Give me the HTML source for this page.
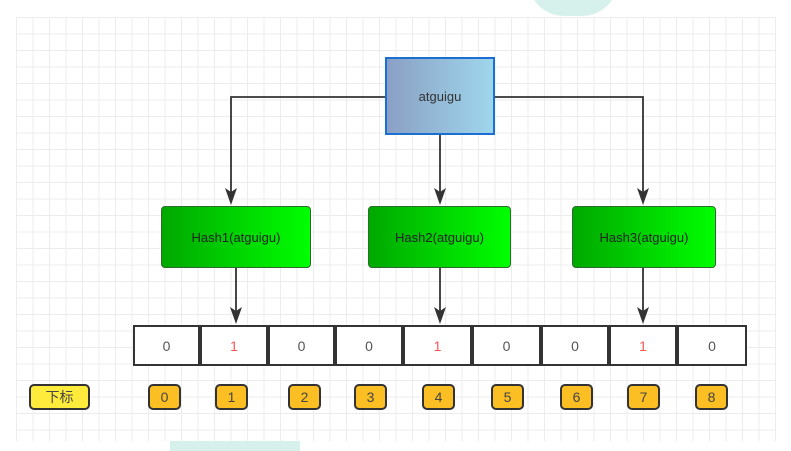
<html><head><style>
body{margin:0;width:791px;height:447px;background:#fff;position:relative;overflow:hidden;font-family:"Liberation Sans","Noto Sans CJK SC",sans-serif}
.grid{position:absolute;left:16px;top:17px;width:760px;height:424px;
background-image:linear-gradient(#ececec 1px,transparent 1px),linear-gradient(90deg,#ececec 1px,transparent 1px);
background-size:16.5px 16.5px}
.b{position:absolute;display:flex;align-items:center;justify-content:center;box-sizing:border-box}
.h{background:linear-gradient(90deg,#00a800,#00ff00);border:1.5px solid #2d6b2d;border-radius:4px;font-size:13px;color:#222}
.c{border:2px solid #333;border-left:none;background:#fff;font-size:14px;color:#555}
.i{background:#fbbf24;border:2px solid #333;border-radius:5px;font-size:14px;color:#444}
</style></head><body>
<div class="grid"></div>
<div style="position:absolute;left:528px;top:-20px;width:90px;height:36px;border-radius:0 0 40px 40px;background:#d6f1ec"></div>
<div style="position:absolute;left:170px;top:441px;width:130px;height:10px;background:#d6f1ec"></div>
<svg width="791" height="447" style="position:absolute;left:0;top:0">
<g stroke="#333" stroke-width="1.8" fill="none">
<path d="M385,97 H231 V195"/>
<path d="M495,97 H643 V195"/>
<path d="M440,135 V195"/>
<path d="M236,268 V314"/>
<path d="M440,268 V314"/>
<path d="M643,268 V314"/>
</g>
<g fill="#333">
<path d="M225,188 L231,192 L237,188 L231,205 z"/>
<path d="M434,188 L440,192 L446,188 L440,205 z"/>
<path d="M637,188 L643,192 L649,188 L643,205 z"/>
<path d="M230,307 L236,311 L242,307 L236,324 z"/>
<path d="M434,307 L440,311 L446,307 L440,324 z"/>
<path d="M637,307 L643,311 L649,307 L643,324 z"/>
</g></svg>
<div class="b" style="left:385px;top:57px;width:110px;height:78px;background:linear-gradient(90deg,#8aa0c4,#9fd6ec);border:2px solid #1b6fd0;font-size:13px;color:#333">atguigu</div>
<div class="b h" style="left:161px;top:206px;width:150px;height:62px">Hash1(atguigu)</div>
<div class="b h" style="left:368px;top:206px;width:143px;height:62px">Hash2(atguigu)</div>
<div class="b h" style="left:572px;top:206px;width:144px;height:62px">Hash3(atguigu)</div>
<div class="b c" style="left:133px;top:325px;width:67px;height:41px;border-left:2px solid #333">0</div>
<div class="b c" style="left:200px;top:325px;width:68px;height:41px;border-left:2px solid #333;color:#f55">1</div>
<div class="b c" style="left:268px;top:325px;width:67px;height:41px;border-left:2px solid #333">0</div>
<div class="b c" style="left:335px;top:325px;width:68px;height:41px;border-left:2px solid #333">0</div>
<div class="b c" style="left:403px;top:325px;width:69px;height:41px;border-left:2px solid #333;color:#f55">1</div>
<div class="b c" style="left:472px;top:325px;width:69px;height:41px;border-left:2px solid #333">0</div>
<div class="b c" style="left:541px;top:325px;width:68px;height:41px;border-left:2px solid #333">0</div>
<div class="b c" style="left:609px;top:325px;width:68px;height:41px;border-left:2px solid #333;color:#f55">1</div>
<div class="b c" style="left:677px;top:325px;width:70px;height:41px;border-left:2px solid #333">0</div>
<div class="b i" style="left:29px;top:384px;width:61px;height:26px;background:#ffeb3b">下标</div>
<div class="b i" style="left:148px;top:384px;width:33px;height:26px">0</div>
<div class="b i" style="left:215px;top:384px;width:33px;height:26px">1</div>
<div class="b i" style="left:288px;top:384px;width:33px;height:26px">2</div>
<div class="b i" style="left:354px;top:384px;width:33px;height:26px">3</div>
<div class="b i" style="left:422px;top:384px;width:33px;height:26px">4</div>
<div class="b i" style="left:491px;top:384px;width:33px;height:26px">5</div>
<div class="b i" style="left:560px;top:384px;width:33px;height:26px">6</div>
<div class="b i" style="left:627px;top:384px;width:33px;height:26px">7</div>
<div class="b i" style="left:695px;top:384px;width:33px;height:26px">8</div>
</body></html>
